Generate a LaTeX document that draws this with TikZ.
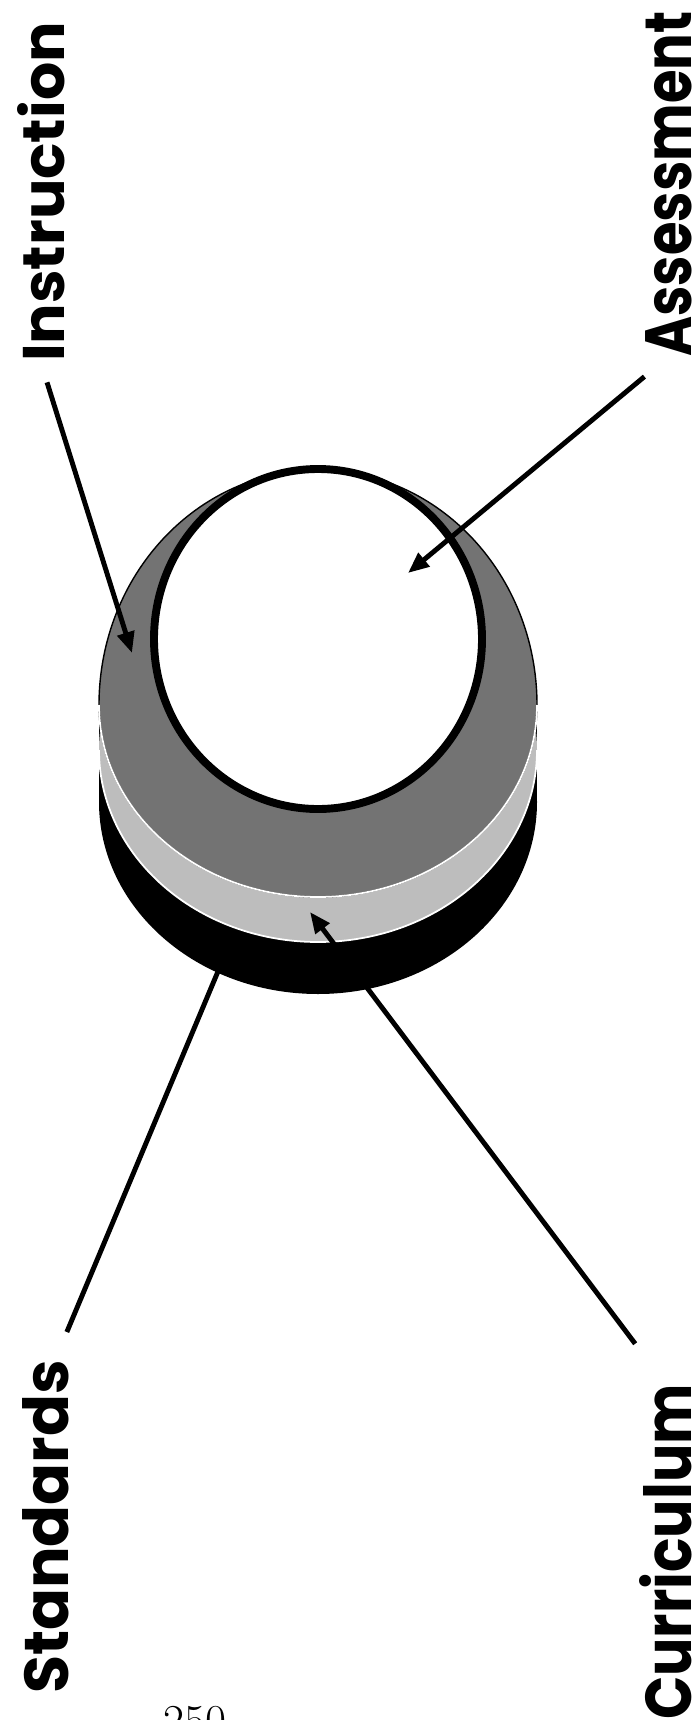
\documentclass[tikz,border=0pt]{standalone}
\usepackage{fontspec}
\setsansfont{Poppins}
\definecolor{facegray}{gray}{0.45}
\definecolor{bandgray}{gray}{0.74}
\usetikzlibrary{arrows.meta}

\begin{document}
\begin{tikzpicture}[
    x=0.02cm, y=-0.02cm,
    layername/.style={rotate=90, anchor=base, inner sep=0pt,
                      font=\sffamily\bfseries\fontsize{36}{36}\selectfont},
    pointer/.style={line width=2.8pt, -{Triangle[length=0.42cm, width=0.34cm]}},
    >=stealth
  ]
    \useasboundingbox[fill=white] (0,0) rectangle (694,1720);

    % Standards: black base
    \fill[black] (99,705) rectangle (537,802);
    \fill[black] (318,802) ellipse [x radius=219, y radius=192];

    % Curriculum: light band
    \fill[bandgray] (100,705) rectangle (536,750);
    \fill[bandgray] (318,750) ellipse [x radius=219, y radius=192];
    \draw[white, line width=1pt]
      (537,750) arc [start angle=0, end angle=180, x radius=219, y radius=192];

    % Instruction: dark top face
    \filldraw[fill=facegray, draw=black, line width=0.8pt]
      (99,705) arc [start angle=180, end angle=360, x radius=219, y radius=235]
      arc [start angle=0, end angle=180, x radius=219, y radius=192] -- cycle;
    \draw[white, line width=1pt]
      (537,705) arc [start angle=0, end angle=180, x radius=219, y radius=192];

    % Assessment: white centre
    \filldraw[fill=white, draw=black, line width=4.5pt]
      (318,639) ellipse [x radius=164, y radius=170];

    % Arrow targets
    \coordinate (facetip) at (408,573);
    \coordinate (ringtip) at (132,653);
    \coordinate (bandtip) at (310,912);
    \coordinate (basetip) at (232,938);

    % Labels
    \node[layername] (instr)  at (64,192)
      {\resizebox{6.8cm}{0.94cm}{Instruction}};
    \node[layername] (assess) at (691,184)
      {\resizebox{6.9cm}{0.92cm}{Assessment}};
    \node[layername] (stand)  at (68,1527)
      {\resizebox{6.68cm}{0.92cm}{Standards}};
    \node[layername] (curric) at (691,1552)
      {\resizebox{6.72cm}{1.04cm}{Curriculum}};

    % Arrows: labels -> disk
    \draw[pointer, shorten <=0.42cm] (instr.west) -- (ringtip);
    \draw[pointer, shorten <=0.62cm] (assess.west) -- (facetip);
    \draw[pointer, shorten <=0.6cm] ([xshift=0.2cm]stand.east) -- (basetip);
    \draw[pointer, shorten <=1.0cm] (curric.east) -- (bandtip);

    % page number, cut at the edge
    \node[font=\fontsize{26}{26}\selectfont, anchor=north, inner sep=0pt] (pagenum)
      at (195,1706) {250};
\end{tikzpicture}
\end{document}
